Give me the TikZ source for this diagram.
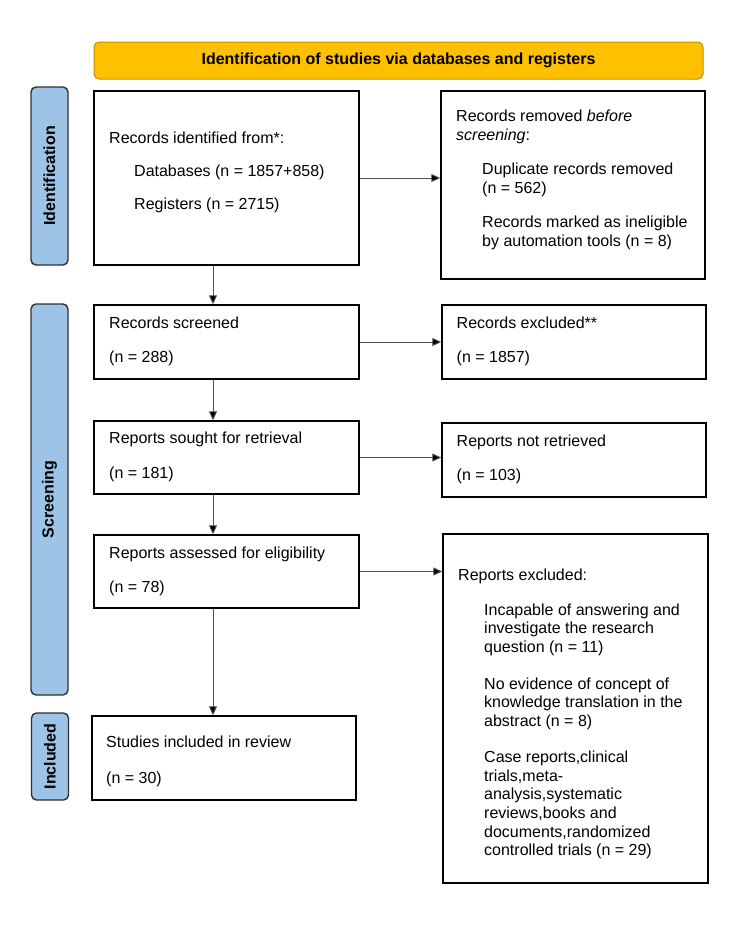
\documentclass[tikz,border=0pt]{standalone}
\usepackage{fontspec}
\setmainfont{Liberation Sans}
\usetikzlibrary{arrows.meta}
\definecolor{hdrfill}{HTML}{FFC000}
\definecolor{hdrline}{HTML}{BF9000}
\definecolor{sidefill}{HTML}{9DC3E6}
\definecolor{sideline}{HTML}{303030}
\definecolor{arrline}{HTML}{505050}
\tikzset{
  box/.style={draw=black, line width=1.4pt, fill=white, inner sep=0pt},
  side/.style={draw=sideline, line width=1.4pt, fill=sidefill, rounded corners=5pt, rotate=90, minimum height=37pt, inner sep=0pt, font=\fontsize{16}{18}\selectfont\bfseries},
  hdr/.style={draw=hdrline, line width=1pt, fill=hdrfill, rounded corners=5pt, inner sep=0pt, font=\fontsize{16}{18}\selectfont\bfseries},
  txt/.style={inner sep=0pt, anchor=base west, font=\fontsize{16}{18}\selectfont},
  arr/.style={draw=arrline, line width=0.9pt, -{Triangle[length=9pt,width=8pt,fill=black]}}
}
\begin{document}
\begin{tikzpicture}[x=1pt,y=-1pt]
\useasboundingbox (0,0) rectangle (750,938);
\fill[white] (0,0) rectangle (750,938);

% header
\node[hdr, minimum width=609pt, minimum height=37pt] (hdr) at (398.5,60.5) {Identification of studies via databases and registers};

% side labels
\node[side, minimum width=178pt] (sid) at (49.5,176) {Identification};
\node[side, minimum width=391pt] (sscr) at (49.5,499.5) {Screening};
\node[side, minimum width=87pt] (sinc) at (50,756.5) {Included};

% boxes
\node[box, minimum width=265pt, minimum height=174pt] (b1) at (226.5,178) {};
\node[box, minimum width=264pt, minimum height=188pt] (r1) at (573,185) {};
\node[box, minimum width=265pt, minimum height=74pt] (b2) at (226.5,342) {};
\node[box, minimum width=264pt, minimum height=74pt] (r2) at (574,342) {};
\node[box, minimum width=265pt, minimum height=73pt] (b3) at (226.5,457.5) {};
\node[box, minimum width=264pt, minimum height=74pt] (r3) at (574,460) {};
\node[box, minimum width=265pt, minimum height=73pt] (b4) at (226.5,571.5) {};
\node[box, minimum width=265pt, minimum height=349pt] (r4) at (575.5,708.5) {};
\node[box, minimum width=264pt, minimum height=84pt] (b5) at (224,758) {};

% connectors
\coordinate (ax) at (213,0);
\draw[arr] (b1.east) -- (b1.east -| r1.west);
\draw[arr] (b2.east) -- (b2.east -| r2.west);
\draw[arr] (b3.east) -- (b3.east -| r3.west);
\draw[arr] (b4.east) -- (b4.east -| r4.west);
\draw[arr] (b1.south -| ax) -- (b2.north -| ax);
\draw[arr] (b2.south -| ax) -- (b3.north -| ax);
\draw[arr] (b3.south -| ax) -- (b4.north -| ax);
\draw[arr] (b4.south -| ax) -- (b5.north -| ax);

% box 1 text
\node[txt] (t11) at (109,143.4) {Records identified from*:};
\node[txt] (t12) at (134,176.7) {Databases (n = 1857+858)};
\node[txt] (t13) at (134,209.7) {Registers (n = 2715)};

% right box 1
\node[txt] (t21) at (456,121.4) {Records removed \textit{before}};
\node[txt] (t22) at (456,140) {\textit{screening}:};
\node[txt] (t23) at (482,174) {Duplicate records removed};
\node[txt] (t24) at (482,193) {(n = 562)};
\node[txt] (t25) at (482,227.4) {Records marked as ineligible};
\node[txt] (t26) at (482,246.4) {by automation tools (n = 8)};

% row 2
\node[txt] (t31) at (109,328) {Records screened};
\node[txt] (t32) at (109,362.5) {(n = 288)};
\node[txt] (t33) at (456.5,328) {Records excluded**};
\node[txt] (t34) at (456.5,362.5) {(n = 1857)};

% row 3
\node[txt] (t41) at (109,443) {Reports sought for retrieval};
\node[txt] (t42) at (109,478) {(n = 181)};
\node[txt] (t43) at (456.5,446) {Reports not retrieved};
\node[txt] (t44) at (456.5,480) {(n = 103)};

% row 4
\node[txt] (t51) at (109,558) {Reports assessed for eligibility};
\node[txt] (t52) at (109,592.7) {(n = 78)};

% right big box
\node[txt] (t61) at (458,580.7) {Reports excluded:};
\node[txt] (t62) at (484,615) {Incapable of answering and};
\node[txt] (t63) at (484,633.7) {investigate the research};
\node[txt] (t64) at (484,652.4) {question (n = 11)};
\node[txt] (t65) at (484,689) {No evidence of concept of};
\node[txt] (t66) at (484,707.7) {knowledge translation in the};
\node[txt] (t67) at (484,726.4) {abstract (n = 8)};
\node[txt] (t68) at (484,762.4) {Case reports,clinical};
\node[txt] (t69) at (484,781.1) {trials,meta-};
\node[txt] (t70) at (484,799.8) {analysis,systematic};
\node[txt] (t71) at (484,818.5) {reviews,books and};
\node[txt] (t72) at (484,837.2) {documents,randomized};
\node[txt] (t73) at (484,855.9) {controlled trials (n = 29)};

% box 5
\node[txt] (t81) at (106,747.7) {Studies included in review};
\node[txt] (t82) at (106,783) {(n = 30)};
\end{tikzpicture}
\end{document}
